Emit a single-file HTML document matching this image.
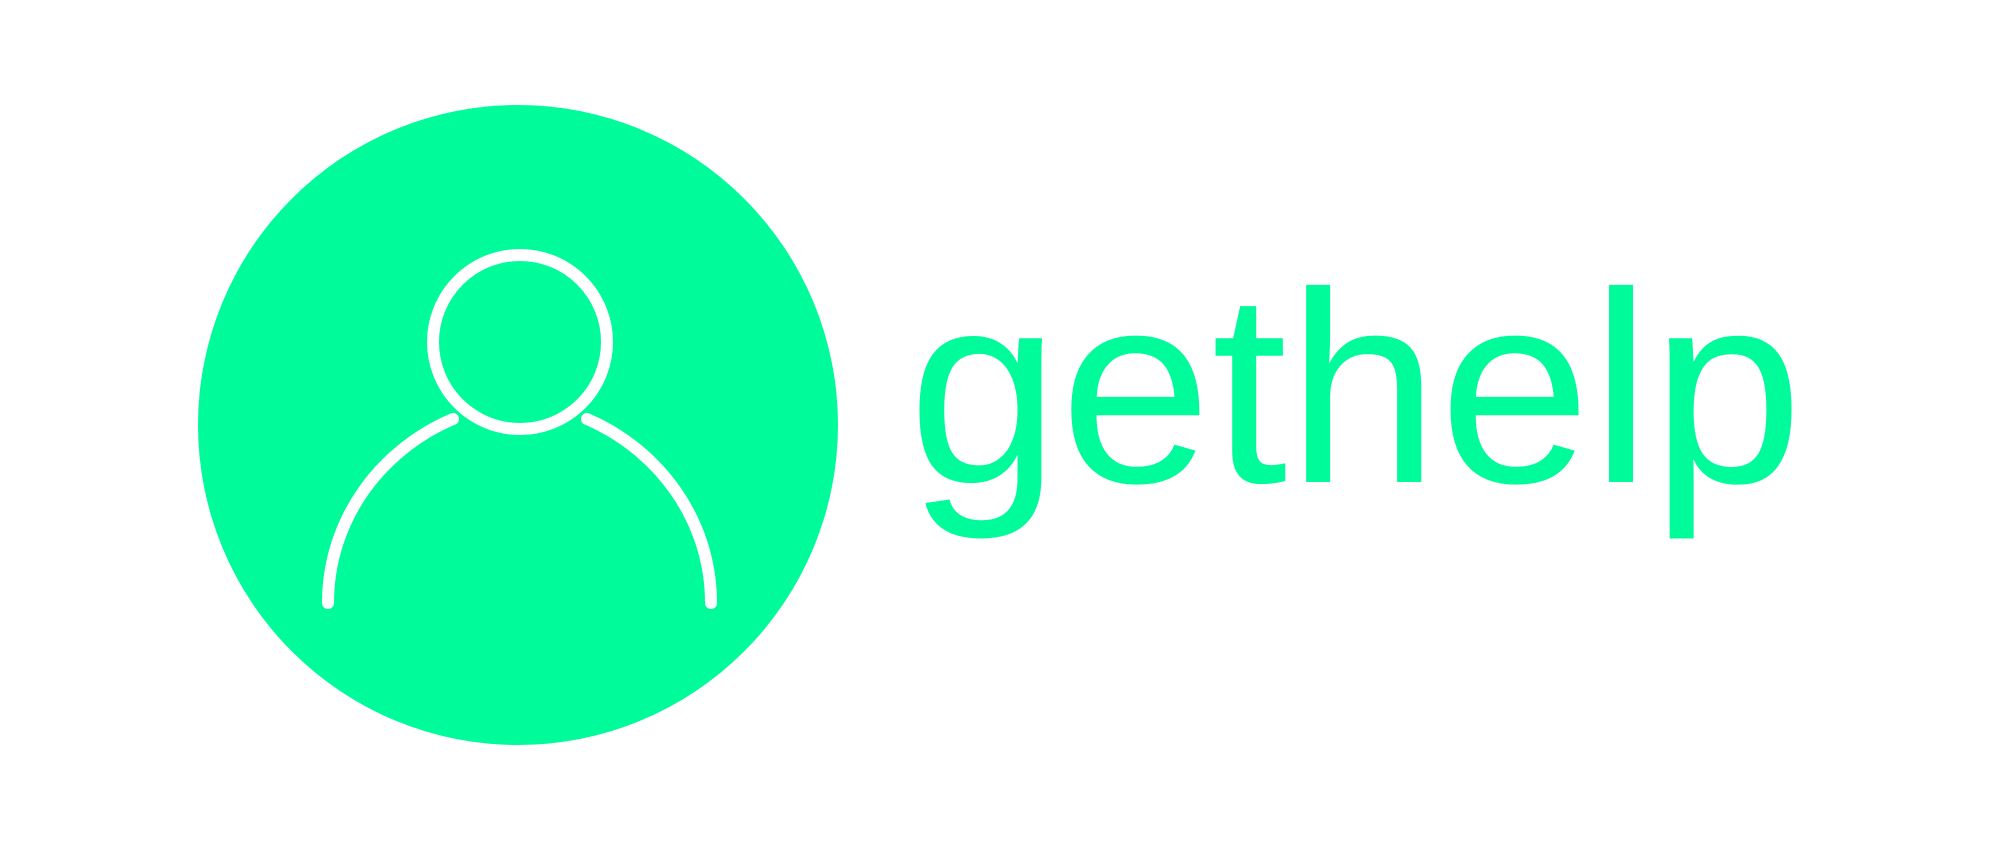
<!DOCTYPE html>
<html>
<head>
<meta charset="utf-8">
<style>
  html,body{margin:0;padding:0;background:#fff;}
  body{width:2000px;height:850px;overflow:hidden;}
</style>
</head>
<body>
<svg width="2000" height="850" viewBox="0 0 2000 850" xmlns="http://www.w3.org/2000/svg">
  <circle cx="518" cy="425" r="320" fill="#00FC9A"/>
  <g fill="none" stroke="#ffffff" stroke-width="12" stroke-linecap="round">
    <circle cx="520" cy="342" r="87"/>
    <path d="M328,603 C328,520 380,450 453,419"/>
    <path d="M711,603 C711,520 659,450 587,419"/>
  </g>
  <text x="908" y="482" font-family="Liberation Sans, sans-serif" font-size="272" fill="#00FC9A" textLength="895" lengthAdjust="spacingAndGlyphs">gethelp</text>
</svg>
</body>
</html>
